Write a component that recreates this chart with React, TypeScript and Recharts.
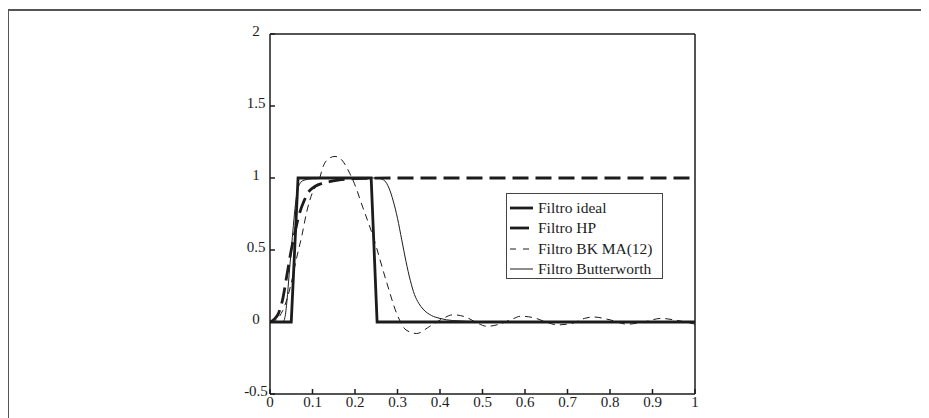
import React from 'react';
import { LineChart, Line, XAxis, YAxis, Legend } from 'recharts';

// frequency (fraction of pi) and gain
const xTicks = [0, 0.1, 0.2, 0.3, 0.4, 0.5, 0.6, 0.7, 0.8, 0.9, 1];
const yTicks = [-0.5, 0, 0.5, 1, 1.5, 2];

const idealX = [0, 0.05, 0.066, 0.238, 0.252, 1];
const idealY = [0, 0, 1, 1, 0, 0];

const hpX = [0, 0.01, 0.02, 0.03, 0.04, 0.05, 0.06, 0.07, 0.08, 0.09, 0.1, 0.12, 0.14, 0.16, 0.2, 0.3, 1];
const hpY = [0, 0.02, 0.06, 0.16, 0.33, 0.5, 0.64, 0.76, 0.84, 0.9, 0.93, 0.96, 0.975, 0.985, 0.995, 1, 1];

const bkX = [
  0, 0.01, 0.02, 0.03, 0.04, 0.05, 0.063, 0.075, 0.086, 0.1, 0.114, 0.125, 0.141, 0.153, 0.169, 0.188,
  0.204, 0.212, 0.243, 0.275, 0.298, 0.32, 0.345, 0.376, 0.408, 0.43, 0.46, 0.49, 0.51, 0.54, 0.57,
  0.59, 0.62, 0.65, 0.675, 0.71, 0.74, 0.76, 0.8, 0.84, 0.88, 0.92, 0.96, 1,
];
const bkY = [
  0, 0.005, 0.03, 0.08, 0.16, 0.27, 0.45, 0.6, 0.76, 0.9, 0.97, 1.08, 1.14, 1.15, 1.125, 1.03,
  0.92, 0.85, 0.59, 0.27, 0.06, -0.055, -0.08, -0.03, 0.026, 0.05, 0.035, -0.01, -0.03, -0.015, 0.02,
  0.04, 0.03, 0.0, -0.02, -0.01, 0.025, 0.035, 0.015, -0.015, 0.0, 0.025, 0.01, -0.015,
];

const bwX = [
  0, 0.03, 0.035, 0.04, 0.045, 0.05, 0.055, 0.06, 0.065, 0.07, 0.08, 0.1, 0.2, 0.25, 0.26, 0.27,
  0.28, 0.29, 0.3, 0.31, 0.32, 0.33, 0.34, 0.35, 0.36, 0.38, 0.4, 0.43, 0.5, 1,
];
const bwY = [
  0, 0, 0.03, 0.15, 0.33, 0.5, 0.67, 0.82, 0.92, 0.96, 0.985, 0.995, 1, 1, 0.995, 0.98,
  0.93, 0.84, 0.72, 0.57, 0.42, 0.29, 0.19, 0.13, 0.09, 0.045, 0.025, 0.01, 0.003, 0,
];

const names = ['Filtro ideal', 'Filtro HP', 'Filtro BK MA(12)', 'Filtro Butterworth'];

const zip = (xs: number[], ys: number[]) => xs.map((x, i) => ({ x, y: ys[i] }));

const series = [
  { name: names[0], data: zip(idealX, idealY), width: 2.8, dash: undefined, type: 'linear', sample: 23, sampleDash: undefined },
  { name: names[1], data: zip(hpX, hpY), width: 2.8, dash: '16 7', type: 'monotone', sample: 19, sampleDash: undefined },
  { name: names[2], data: zip(bkX, bkY), width: 1, dash: '7 5', type: 'monotone', sample: 23, sampleDash: '6 7' },
  { name: names[3], data: zip(bwX, bwY), width: 1, dash: undefined, type: 'monotone', sample: 23, sampleDash: undefined },
];

const FONT = '"Liberation Serif", "Times New Roman", serif';
const INK = '#1c1c1c';

const XTick = ({ x, y, payload }: any) => (
  <text x={x} y={y + 13} textAnchor="middle" fontFamily={FONT} fontSize={15} fill={INK}>
    {String(payload.value)}
  </text>
);

const YTick = ({ x, y, payload }: any) => (
  <text x={x} y={y + 2} textAnchor="middle" fontFamily={FONT} fontSize={15} fill={INK}>
    {String(payload.value)}
  </text>
);

// legend keeps the plotting order, not the alphabetical one
const LegendBox = () => (
  <div
    style={{
      boxSizing: 'border-box',
      width: '100%',
      height: '100%',
      border: '1.2px solid #444',
      background: '#fff',
      paddingTop: 4,
      fontFamily: FONT,
      fontSize: 15.5,
      color: INK,
    }}
  >
    {series.map(s => (
      <div key={s.name} style={{ height: 20.3, display: 'flex', alignItems: 'center', whiteSpace: 'nowrap' }}>
        <svg width={31} height={12} style={{ flexShrink: 0 }}>
          <line x1={3} x2={3 + s.sample} y1={6} y2={6} stroke={INK} strokeWidth={s.width} strokeDasharray={s.sampleDash} />
        </svg>
        <span style={{ lineHeight: '20px' }}>{s.name}</span>
      </div>
    ))}
  </div>
);

export default function App() {
  return (
    <div style={{ position: 'relative', width: 921, height: 410, fontFamily: FONT }}>
      <style>{'html,body{overflow:hidden}'}</style>
      <div
        style={{
          position: 'absolute',
          top: 1,
          left: 0,
          right: 0,
          bottom: 0,
          borderTop: '2px solid #555',
          borderLeft: '1.5px solid #555',
        }}
      />
      <div style={{ position: 'absolute', top: 0, left: 0 }}>
        <LineChart width={921} height={410} margin={{ top: 25, right: 233, left: 222, bottom: 0 }}>
          <XAxis
            dataKey="x"
            type="number"
            domain={[0, 1]}
            ticks={xTicks}
            interval={0}
            allowDataOverflow
            height={24}
            tickSize={-5}
            tickMargin={5}
            axisLine={{ stroke: INK, strokeWidth: 1.5 }}
            tickLine={{ stroke: INK, strokeWidth: 1.5 }}
            tick={<XTick />}
          />
          <XAxis
            xAxisId="top"
            orientation="top"
            dataKey="x"
            type="number"
            domain={[0, 1]}
            ticks={xTicks}
            interval={0}
            height={1}
            tickSize={-5}
            axisLine={{ stroke: INK, strokeWidth: 1.5 }}
            tickLine={{ stroke: INK, strokeWidth: 1.5 }}
            tick={false}
          />
          <YAxis
            type="number"
            domain={[-0.5, 2]}
            ticks={yTicks}
            interval={0}
            allowDataOverflow
            width={40}
            tickSize={-5}
            tickMargin={19}
            axisLine={{ stroke: INK, strokeWidth: 1.5 }}
            tickLine={{ stroke: INK, strokeWidth: 1.5 }}
            tick={<YTick />}
          />
          <YAxis
            yAxisId="right"
            orientation="right"
            type="number"
            domain={[-0.5, 2]}
            ticks={yTicks}
            interval={0}
            width={1}
            tickSize={-5}
            axisLine={{ stroke: INK, strokeWidth: 1.5 }}
            tickLine={{ stroke: INK, strokeWidth: 1.5 }}
            tick={false}
          />
          <Legend
            layout="vertical"
            align="center"
            verticalAlign="middle"
            width={157}
            height={86}
            wrapperStyle={{ left: 498, top: 185 }}
            content={<LegendBox />}
          />
          {series.map(s => (
            <Line
              key={s.name}
              name={s.name}
              data={s.data}
              dataKey="y"
              type={s.type as any}
              stroke={INK}
              strokeWidth={s.width}
              strokeDasharray={s.dash}
              dot={false}
              activeDot={false}
              isAnimationActive={false}
            />
          ))}
        </LineChart>
      </div>
    </div>
  );
}
